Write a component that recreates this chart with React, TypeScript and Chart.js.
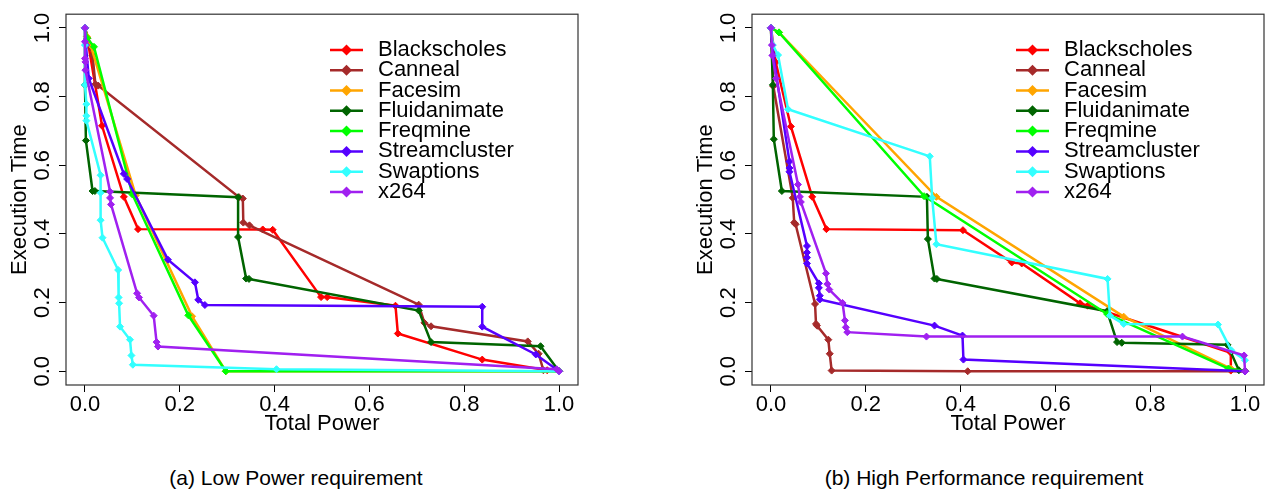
import React, { useEffect, useRef } from 'react';
import { Chart, registerables } from 'chart.js';

Chart.register(...registerables);

// ---------- labels / styling constants ----------
const SERIES_NAMES = ['Blackscholes', 'Canneal', 'Facesim', 'Fluidanimate', 'Freqmine', 'Streamcluster', 'Swaptions', 'x264'];
const SERIES_COLORS = ['#FF0000', '#A52A2A', '#FFA500', '#006400', '#00FF00', '#5500FF', '#33FFFF', '#A020F0'];
const TICK_VALUES = [0, 0.2, 0.4, 0.6, 0.8, 1.0];
const X_TITLE = 'Total Power';
const Y_TITLE = 'Execution Time';
const CAPTION_A = '(a) Low Power requirement';
const CAPTION_B = '(b) High Performance requirement';

// ---------- (a) Low Power requirement : [total power, execution time] ----------
const lowBlackscholes = [[0, 1], [0.005, 0.97], [0.036, 0.715], [0.082, 0.508], [0.112, 0.414], [0.375, 0.413], [0.396, 0.412], [0.498, 0.216], [0.511, 0.216], [0.655, 0.191], [0.66, 0.11], [0.838, 0.034], [0.975, 0.003], [1, 0]];
const lowCanneal = [[0, 1], [0.014, 0.94], [0.016, 0.92], [0.022, 0.836], [0.028, 0.832], [0.325, 0.507], [0.333, 0.503], [0.334, 0.433], [0.347, 0.425], [0.704, 0.194], [0.716, 0.141], [0.73, 0.131], [0.934, 0.087], [0.957, 0.051], [0.967, 0.003], [1, 0]];
const lowFacesim = [[0, 1], [0.004, 0.975], [0.012, 0.95], [0.107, 0.512], [0.226, 0.16], [0.297, 0], [1, 0]];
const lowFluidanimate = [[0, 1], [0, 0.834], [0.002, 0.672], [0.016, 0.525], [0.021, 0.525], [0.323, 0.507], [0.323, 0.391], [0.34, 0.27], [0.346, 0.269], [0.704, 0.177], [0.73, 0.085], [0.961, 0.073], [1, 0]];
const lowFreqmine = [[0, 1], [0.005, 0.97], [0.019, 0.945], [0.1, 0.515], [0.218, 0.163], [0.297, 0], [1, 0]];
const lowStreamcluster = [[0, 1], [0.002, 0.95], [0.008, 0.853], [0.082, 0.575], [0.089, 0.56], [0.175, 0.325], [0.232, 0.259], [0.239, 0.208], [0.253, 0.193], [0.838, 0.188], [0.838, 0.13], [0.951, 0.049], [1, 0]];
const lowSwaptions = [[0, 1], [0, 0.95], [0, 0.834], [0.003, 0.778], [0.003, 0.744], [0.003, 0.73], [0.033, 0.571], [0.033, 0.52], [0.033, 0.44], [0.037, 0.389], [0.07, 0.295], [0.071, 0.215], [0.072, 0.198], [0.074, 0.13], [0.095, 0.092], [0.098, 0.046], [0.101, 0.019], [0.404, 0.006], [1, 0]];
const lowX264 = [[0, 1], [0, 0.96], [0, 0.911], [0.001, 0.901], [0.001, 0.877], [0.053, 0.523], [0.053, 0.505], [0.055, 0.486], [0.11, 0.227], [0.114, 0.215], [0.145, 0.162], [0.151, 0.085], [0.154, 0.072], [0.995, 0.006], [1, 0]];

// ---------- (b) High Performance requirement ----------
const highBlackscholes = [[0, 1], [0.01, 0.9], [0.042, 0.713], [0.087, 0.508], [0.117, 0.414], [0.405, 0.411], [0.508, 0.317], [0.529, 0.314], [0.652, 0.198], [0.668, 0.191], [0.97, 0.054], [0.97, 0.002], [1, 0]];
const highCanneal = [[0, 1], [0.005, 0.83], [0.046, 0.505], [0.049, 0.433], [0.052, 0.428], [0.093, 0.196], [0.095, 0.138], [0.097, 0.133], [0.121, 0.092], [0.124, 0.051], [0.128, 0.002], [0.415, 0], [1, 0]];
const highFacesim = [[0, 1], [0.017, 0.987], [0.349, 0.508], [0.744, 0.159], [0.97, 0.008], [1, 0]];
const highFluidanimate = [[0, 1], [0.004, 0.834], [0.006, 0.676], [0.023, 0.525], [0.329, 0.508], [0.331, 0.385], [0.345, 0.27], [0.35, 0.269], [0.709, 0.175], [0.73, 0.085], [0.74, 0.083], [0.963, 0.077], [0.987, 0.003], [1, 0]];
const highFreqmine = [[0, 1], [0.017, 0.987], [0.323, 0.51], [0.709, 0.167], [0.965, 0.008], [1, 0]];
const highStreamcluster = [[0, 1], [0.005, 0.92], [0.039, 0.611], [0.039, 0.592], [0.039, 0.581], [0.076, 0.365], [0.076, 0.346], [0.076, 0.331], [0.076, 0.314], [0.101, 0.256], [0.101, 0.243], [0.103, 0.22], [0.103, 0.209], [0.345, 0.133], [0.404, 0.104], [0.406, 0.034], [1, 0]];
const highSwaptions = [[0, 1], [0.004, 0.95], [0.015, 0.921], [0.036, 0.763], [0.335, 0.626], [0.34, 0.505], [0.349, 0.37], [0.71, 0.269], [0.715, 0.162], [0.744, 0.138], [0.943, 0.136], [0.971, 0.061], [1, 0.032]];
const highX264 = [[0, 1], [0.002, 0.95], [0.003, 0.92], [0.011, 0.853], [0.057, 0.544], [0.061, 0.508], [0.063, 0.493], [0.116, 0.285], [0.119, 0.254], [0.123, 0.238], [0.151, 0.199], [0.156, 0.148], [0.158, 0.128], [0.161, 0.114], [0.328, 0.101], [0.868, 0.101], [0.998, 0.046], [1, 0]];

const LOW_SERIES = [lowBlackscholes, lowCanneal, lowFacesim, lowFluidanimate, lowFreqmine, lowStreamcluster, lowSwaptions, lowX264];
const HIGH_SERIES = [highBlackscholes, highCanneal, highFacesim, highFluidanimate, highFreqmine, highStreamcluster, highSwaptions, highX264];

const FONT_FAMILY = '"Liberation Sans", Arial, Helvetica, sans-serif';
const CANVAS_W = 640;
const CANVAS_H = 440;

const boxAndLegend = {
  id: 'boxAndLegend',
  afterDraw(chart: any) {
    const { ctx, chartArea: a } = chart;
    ctx.save();
    ctx.strokeStyle = '#333';
    ctx.lineWidth = 1.2;
    ctx.strokeRect(a.left, a.top, a.right - a.left, a.bottom - a.top);

    const lx0 = a.left + 264;
    const lx1 = a.left + 297;
    const tx = a.left + 312;
    const y0 = a.top + 35.7;
    const dy = 20.3;
    chart.data.datasets.forEach((ds: any, i: number) => {
      const y = y0 + i * dy;
      ctx.strokeStyle = ds.borderColor;
      ctx.lineWidth = 2.5;
      ctx.beginPath();
      ctx.moveTo(lx0, y);
      ctx.lineTo(lx1, y);
      ctx.stroke();
      const cx = (lx0 + lx1) / 2;
      const r = 5.5;
      ctx.fillStyle = ds.borderColor;
      ctx.beginPath();
      ctx.moveTo(cx, y - r);
      ctx.lineTo(cx + r, y);
      ctx.lineTo(cx, y + r);
      ctx.lineTo(cx - r, y);
      ctx.closePath();
      ctx.fill();
      ctx.fillStyle = '#000';
      ctx.font = `22px ${FONT_FAMILY}`;
      ctx.textAlign = 'left';
      ctx.textBaseline = 'middle';
      ctx.fillText(ds.label, tx, y);
    });
    ctx.restore();
  },
};

function makeConfig(series: number[][][]) {
  const n = series.length;
  return {
    type: 'scatter' as const,
    data: {
      datasets: series.map((pts, i) => ({
        label: SERIES_NAMES[i],
        data: pts.map(([x, y]) => ({ x, y })),
        showLine: true,
        borderColor: SERIES_COLORS[i],
        backgroundColor: SERIES_COLORS[i],
        borderWidth: 2.5,
        pointStyle: 'rectRot',
        pointRadius: 3.5,
        pointBorderWidth: 1,
        pointBorderColor: SERIES_COLORS[i],
        pointBackgroundColor: SERIES_COLORS[i],
        order: n - i,
        tension: 0,
      })),
    },
    options: {
      responsive: false,
      animation: false,
      events: [],
      layout: { padding: { top: 12, right: CANVAS_W - 578, left: 0, bottom: 0 } },
      plugins: { legend: { display: false }, tooltip: { enabled: false } },
      scales: {
        x: {
          type: 'linear',
          min: -0.04,
          max: 1.04,
          afterBuildTicks: (scale: any) => {
            scale.ticks = TICK_VALUES.map((v) => ({ value: v }));
          },
          afterFit: (scale: any) => {
            scale.height = CANVAS_H - 385;
          },
          grid: { display: true, drawOnChartArea: false, drawTicks: true, tickLength: 7, color: '#000', lineWidth: 1 },
          border: { display: false },
          ticks: {
            autoSkip: false,
            maxRotation: 0,
            minRotation: 0,
            padding: 0,
            color: '#000',
            font: { family: FONT_FAMILY, size: 22 },
            callback: (v: any) => Number(v).toFixed(1),
          },
          title: {
            display: true,
            text: X_TITLE,
            color: '#000',
            font: { family: FONT_FAMILY, size: 22 },
            padding: { top: 0, bottom: 3 },
          },
        },
        y: {
          type: 'linear',
          min: -0.04,
          max: 1.04,
          afterBuildTicks: (scale: any) => {
            scale.ticks = TICK_VALUES.map((v) => ({ value: v }));
          },
          afterFit: (scale: any) => {
            scale.width = 66;
          },
          grid: { display: true, drawOnChartArea: false, drawTicks: true, tickLength: 7, color: '#000', lineWidth: 1 },
          border: { display: false },
          ticks: {
            autoSkip: false,
            minRotation: 90,
            maxRotation: 90,
            crossAlign: 'center',
            padding: 1,
            color: '#000',
            font: { family: FONT_FAMILY, size: 22 },
            callback: (v: any) => Number(v).toFixed(1),
          },
          title: {
            display: true,
            text: Y_TITLE,
            color: '#000',
            font: { family: FONT_FAMILY, size: 22 },
            padding: { top: 7, bottom: 0 },
          },
        },
      },
    },
    plugins: [boxAndLegend],
  };
}

function Panel({ series, left }: { series: number[][][]; left: number }) {
  const ref = useRef<HTMLCanvasElement | null>(null);
  useEffect(() => {
    if (!ref.current) return;
    const chart = new Chart(ref.current, makeConfig(series) as any);
    return () => chart.destroy();
  }, [series]);
  return (
    <canvas
      ref={ref}
      width={CANVAS_W}
      height={CANVAS_H}
      style={{ position: 'absolute', left, top: 0, width: CANVAS_W, height: CANVAS_H }}
    />
  );
}

const captionStyle = (center: number): React.CSSProperties => ({
  position: 'absolute',
  left: center - 250,
  width: 500,
  top: 466,
  textAlign: 'center',
  fontFamily: FONT_FAMILY,
  fontSize: 21,
  lineHeight: '24px',
  color: '#000',
  whiteSpace: 'nowrap',
});

export default function App() {
  return (
    <div style={{ position: 'absolute', left: 0, top: 0, width: 1274, height: 491, background: '#fff', overflow: 'hidden' }}>
      <Panel series={LOW_SERIES} left={0} />
      <Panel series={HIGH_SERIES} left={686} />
      <div style={captionStyle(296)}>{CAPTION_A}</div>
      <div style={captionStyle(984)}>{CAPTION_B}</div>
    </div>
  );
}
